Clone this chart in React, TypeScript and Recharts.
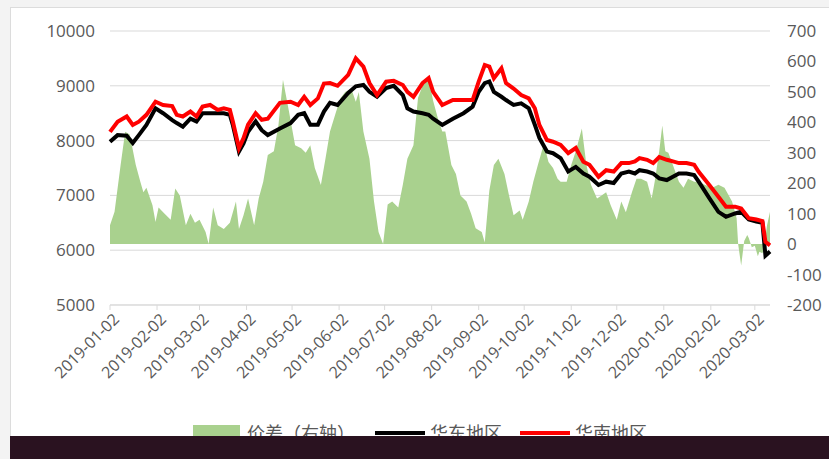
import React from 'react';
import { ComposedChart, Area, Line, XAxis, YAxis, CartesianGrid } from 'recharts';

// x values are days counted from 2019-01-02
const tickDays = [0, 31, 59, 90, 120, 151, 181, 212, 243, 273, 304, 334, 365, 396, 425];
const tickLabels = [
  '2019-01-02', '2019-02-02', '2019-03-02', '2019-04-02', '2019-05-02', '2019-06-02', '2019-07-02',
  '2019-08-02', '2019-09-02', '2019-10-02', '2019-11-02', '2019-12-02', '2020-01-02', '2020-02-02', '2020-03-02',
];

const lineDays = [
  0, 5, 11, 15, 19, 24, 30, 35, 41, 44, 48, 53, 57, 61, 66, 71, 75, 79, 81, 85, 88, 91, 96, 100, 104,
  112, 119, 124, 128, 132, 137, 141, 145, 150, 157, 162, 167, 171, 176, 182, 187, 193, 196, 200, 206,
  210, 213, 219, 226, 233, 239, 243, 247, 250, 253, 258, 261, 266, 271, 276, 280, 283, 288, 292, 297,
  302, 307, 312, 316, 322, 327, 332, 337, 342, 346, 349, 354, 358, 362, 367, 371, 375, 380, 385, 388,
  395, 401, 406, 412, 416, 421, 426, 430, 432, 435,
];
// 华东地区
const eastValues = [
  7980, 8100, 8090, 7955, 8100, 8285, 8590, 8500, 8375, 8320, 8255, 8400, 8350, 8500, 8500, 8500, 8500, 8470, 8280, 7800, 7950, 8160, 8350, 8190, 8100,
  8220, 8320, 8470, 8500, 8290, 8290, 8530, 8690, 8650, 8870, 8990, 9015, 8890, 8800, 8960, 9000, 8830, 8590, 8530, 8500,
  8470, 8400, 8285, 8400, 8500, 8620, 8890, 9050, 9080, 8890, 8800, 8740, 8650, 8680, 8590, 8290, 8050, 7800, 7770, 7680,
  7435, 7520, 7400, 7340, 7190, 7250, 7225, 7400, 7435, 7400, 7460, 7435, 7400, 7310, 7280, 7340, 7400, 7400, 7370, 7250,
  6950, 6700, 6610, 6670, 6700, 6560, 6525, 6500, 5900, 5975,
];
// 华南地区
const southValues = [
  8160, 8345, 8440, 8285, 8345, 8470, 8710, 8650, 8630, 8470, 8440, 8530, 8440, 8620, 8650, 8560, 8590, 8560, 8345, 7865, 8045, 8290, 8500, 8380, 8400,
  8690, 8710, 8650, 8800, 8650, 8770, 9040, 9050, 9000, 9200, 9500, 9350, 9050, 8830, 9075, 9090, 9015, 8890, 8800, 9050,
  9140, 8890, 8650, 8740, 8740, 8740, 9075, 9380, 9350, 9140, 9320, 9050, 8950, 8830, 8770, 8590, 8285, 8010, 7980, 7920,
  7770, 7865, 7615, 7560, 7340, 7460, 7435, 7590, 7590, 7620, 7680, 7650, 7590, 7700, 7650, 7620, 7590, 7590, 7560, 7430,
  7190, 6975, 6795, 6795, 6760, 6585, 6560, 6530, 6150, 6090,
];

const spreadDays = [
  0, 3, 7, 10, 13, 17, 20, 22, 24, 28, 30, 32, 36, 40, 43, 46, 50, 53, 56, 59,
  63, 65, 68, 71, 75, 79, 83, 85, 88, 91, 95, 98, 101, 104, 108, 111, 114, 118, 122, 126,
  129, 132, 135, 139, 142, 145, 149, 152, 155, 159, 162, 164, 167, 171, 174, 177, 180, 183, 186, 190,
  193, 196, 200, 203, 206, 210, 213, 216, 219, 221, 225, 228, 231, 235, 238, 241, 245, 247, 250, 253,
  256, 260, 263, 266, 270, 272, 276, 279, 282, 286, 289, 292, 295, 297, 301, 304, 307, 311, 314, 317,
  321, 324, 327, 330, 334, 337, 340, 344, 347, 350, 354, 357, 359, 362, 364, 366, 368, 371, 375, 378,
  381, 385, 388, 392, 397, 401, 405, 410, 413, 414, 416, 418, 420, 421, 423, 425, 427, 428, 430, 431,
  433, 435,
];
// 价差（右轴）
const spreadValues = [
  62, 106, 260, 369, 360, 260, 205, 170, 185, 128, 73, 120, 100, 80, 183, 160, 62, 100, 70, 80,
  40, 0, 120, 62, 50, 70, 140, 50, 95, 150, 62, 150, 205, 293, 305, 390, 540, 435, 325, 315,
  300, 325, 250, 194, 280, 370, 435, 480, 500, 510, 468, 500, 370, 280, 140, 40, 0, 130, 140, 120,
  195, 280, 325, 480, 520, 545, 470, 415, 370, 370, 260, 230, 160, 140, 100, 52, 40, 5, 175, 260,
  280, 230, 160, 95, 110, 80, 140, 205, 260, 330, 270, 250, 215, 205, 205, 260, 305, 380, 260, 195,
  150, 160, 170, 128, 80, 140, 105, 170, 215, 215, 205, 150, 205, 305, 390, 305, 300, 260, 205, 185,
  215, 205, 205, 195, 185, 195, 185, 140, 85, 0, -70, 10, 30, 20, -10, -5, -40, -25, -30, -15,
  60, 106,
];

const leftTicks = [5000, 6000, 7000, 8000, 9000, 10000];
const rightTicks = [-200, -100, 0, 100, 200, 300, 400, 500, 600, 700];

const GREEN = '#a9d18e';
const BLACK = '#000000';
const RED = '#ff0000';
const TEXT = '#595959';
const GRID = '#d9d9d9';
const FONT = '"Open Sans", "Noto Sans CJK SC", sans-serif';

const lineData = lineDays.map((day, i) => ({ day, east: eastValues[i], south: southValues[i] }));
const spreadData = spreadDays.map((day, i) => ({ day, spread: spreadValues[i] }));

const DateTick = (props: any) => {
  const { x, y, payload } = props;
  const idx = tickDays.indexOf(payload.value);
  const tx = x + 6;
  const ty = y + 3;
  return (
    <text
      x={tx}
      y={ty}
      transform={`rotate(-45 ${tx} ${ty})`}
      textAnchor="end"
      dominantBaseline="central"
      fill={TEXT}
      fontSize={16}
      fontFamily={FONT}
    >
      {idx >= 0 ? tickLabels[idx] : ''}
    </text>
  );
};

const LegendBar = () => (
  <div
    style={{
      position: 'absolute', top: 421, left: 0, width: 829, height: 24,
      fontFamily: '"Noto Sans CJK SC", sans-serif', fontSize: 18, color: TEXT,
    }}
  >
    <div style={{ position: 'absolute', left: 193, top: 4, width: 47, height: 16, background: GREEN }} />
    <span style={{ position: 'absolute', left: 247, top: -2, whiteSpace: 'nowrap' }}>价差（右轴）</span>
    <div style={{ position: 'absolute', left: 375, top: 10, width: 50, height: 4, background: BLACK }} />
    <span style={{ position: 'absolute', left: 430, top: -2, whiteSpace: 'nowrap' }}>华东地区</span>
    <div style={{ position: 'absolute', left: 520, top: 10, width: 50, height: 4, background: RED }} />
    <span style={{ position: 'absolute', left: 575, top: -2, whiteSpace: 'nowrap' }}>华南地区</span>
  </div>
);

export default function App() {
  return (
    <div style={{ position: 'absolute', left: 0, top: 0, width: 829, height: 459, background: '#f3f3f3', overflow: 'hidden' }}>
      <div
        style={{
          position: 'absolute', left: 10, top: 7, width: 819, height: 452, background: '#ffffff',
          borderTop: '1px solid #dcdcdc', borderLeft: '1px solid #dcdcdc',
        }}
      />
      <div style={{ position: 'absolute', left: 0, top: 0 }}>
        <ComposedChart width={829} height={459} data={lineData} margin={{ top: 31, right: 0, bottom: 64, left: 0 }}>
          <CartesianGrid yAxisId="left" vertical={false} stroke={GRID} strokeWidth={1} />
          <XAxis
            dataKey="day"
            type="number"
            domain={[0, 435]}
            ticks={tickDays}
            interval={0}
            height={90}
            stroke={GRID}
            tickSize={5}
            tickMargin={3}
            tick={<DateTick />}
          />
          <YAxis
            yAxisId="left"
            orientation="left"
            width={110}
            domain={[5000, 10000]}
            ticks={leftTicks}
            axisLine={false}
            tickLine={false}
            tickSize={6}
            tickMargin={9}
            tick={{ fill: TEXT, fontSize: 17, fontFamily: FONT }}
          />
          <YAxis
            yAxisId="right"
            orientation="right"
            width={59}
            domain={[-200, 700]}
            ticks={rightTicks}
            axisLine={false}
            tickLine={false}
            tickSize={6}
            tickMargin={11}
            tick={{ fill: TEXT, fontSize: 17, fontFamily: FONT, textAnchor: 'start' }}
          />
          <Area
            yAxisId="right"
            data={spreadData}
            dataKey="spread"
            type="linear"
            baseValue={0}
            fill={GREEN}
            fillOpacity={1}
            stroke="none"
            isAnimationActive={false}
          />
          <Line
            yAxisId="left"
            dataKey="east"
            type="linear"
            stroke={BLACK}
            strokeWidth={4}
            dot={false}
            isAnimationActive={false}
          />
          <Line
            yAxisId="left"
            dataKey="south"
            type="linear"
            stroke={RED}
            strokeWidth={4}
            dot={false}
            isAnimationActive={false}
          />
        </ComposedChart>
      </div>
      <LegendBar />
      <div style={{ position: 'absolute', left: 10, top: 436, width: 819, height: 23, background: '#2a1220' }} />
    </div>
  );
}
